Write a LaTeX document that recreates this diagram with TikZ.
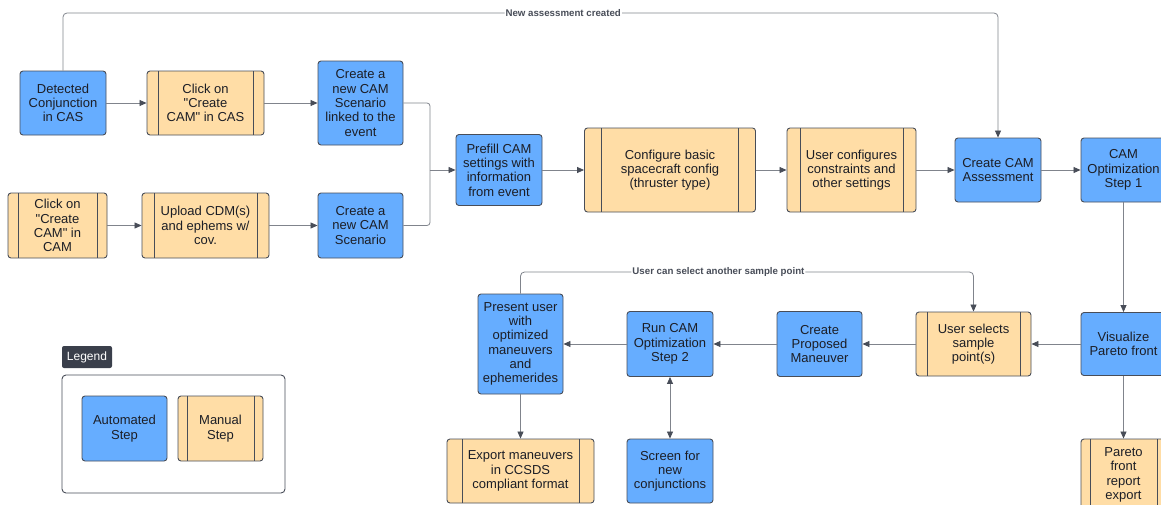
\documentclass[tikz,border=0pt]{standalone}
\usepackage{fontspec}
\setmainfont{Liberation Sans}[Ligatures=TeXOff]
\usetikzlibrary{arrows.meta}

\definecolor{autoblue}{RGB}{102,173,255}
\definecolor{manualtan}{RGB}{255,221,166}
\definecolor{edgegray}{RGB}{72,77,88}
\definecolor{linkgray}{RGB}{128,132,140}
\definecolor{inkdark}{RGB}{28,30,38}
\definecolor{tagdark}{RGB}{58,63,75}

\tikzset{
  stepbase/.style={draw=edgegray, line width=0.9pt, rounded corners=3pt, align=center,
    text=inkdark, font=\fontsize{13}{14.3}\selectfont, inner sep=0pt},
  autostep/.style={stepbase, fill=autoblue},
  manualstep/.style={stepbase, fill=manualtan, path picture={
    \draw[edgegray, line width=0.9pt] ([xshift=#1]path picture bounding box.north west) -- ([xshift=#1]path picture bounding box.south west);
    \draw[edgegray, line width=0.9pt] ([xshift=-#1]path picture bounding box.north east) -- ([xshift=-#1]path picture bounding box.south east);}},
  manualstep/.default=11pt,
  link/.style={draw=linkgray, line width=0.8pt},
  flow/.style={link, -{Triangle[length=7pt,width=6pt,color=edgegray]}},
  flowboth/.style={link, {Triangle[length=7pt,width=6pt,color=edgegray]}-{Triangle[length=7pt,width=6pt,color=edgegray]}},
  looplabel/.style={fill=white, inner sep=1pt, text=edgegray, font=\fontsize{9.7}{10}\selectfont\bfseries}
}

\begin{document}
\begin{tikzpicture}[x=1pt, y=-1pt]
\useasboundingbox (0,0) rectangle (1161,504);

\node[autostep, minimum width=86pt, minimum height=64pt] (det) at (63,103) {Detected\\Conjunction\\in CAS};
\node[manualstep, minimum width=117pt, minimum height=64pt] (clickcas) at (205.5,103) {Click on\\"Create\\CAM" in CAS};
\node[autostep, minimum width=85pt, minimum height=84pt] (scen1) at (360.5,103) {Create a\\new CAM\\Scenario\\linked to the\\event};

\node[manualstep=10pt, minimum width=99pt, minimum height=65pt] (clickcam) at (57.5,225.5) {Click on\\"Create\\CAM" in\\CAM};
\node[manualstep=12pt, minimum width=127pt, minimum height=65pt] (upload) at (205.5,225.5) {Upload CDM(s)\\and ephems w/\\cov.};
\node[autostep, minimum width=85pt, minimum height=65pt] (scen2) at (360.5,225.5) {Create a\\new CAM\\Scenario};

\node[autostep, minimum width=86pt, minimum height=71pt] (prefill) at (499,170) {Prefill CAM\\settings with\\information\\from event};
\node[manualstep=17pt, minimum width=171pt, minimum height=84pt] (config) at (670,170) {Configure basic\\spacecraft config\\(thruster type)};
\node[manualstep=13pt, minimum width=129pt, minimum height=84pt] (constr) at (851.5,170) {User configures\\constraints and\\other settings};
\node[autostep, minimum width=86pt, minimum height=64pt] (assess) at (998,170) {Create CAM\\Assessment};
\node[autostep, minimum width=85pt, minimum height=64pt] (opt1) at (1123.5,170) {CAM\\Optimization\\Step 1};

\node[autostep, minimum width=85pt, minimum height=63pt] (vis) at (1123.5,344) {Visualize\\Pareto front};
\node[manualstep, minimum width=115pt, minimum height=64pt] (select) at (973.5,344) {User selects\\sample\\point(s)};
\node[autostep, minimum width=85pt, minimum height=65pt] (proposed) at (819.5,344) {Create\\Proposed\\Maneuver};
\node[autostep, minimum width=86pt, minimum height=65pt] (run2) at (670,344) {Run CAM\\Optimization\\Step 2};
\node[autostep, minimum width=85pt, minimum height=100pt] (present) at (520.5,344) {Present user\\with\\optimized\\maneuvers\\and\\ephemerides};

\node[manualstep=15pt, minimum width=147pt, minimum height=64pt] (export) at (520.5,471) {Export maneuvers\\in CCSDS\\compliant format};
\node[autostep, minimum width=86pt, minimum height=64pt] (screen) at (670,471) {Screen for\\new\\conjunctions};
\node[manualstep=9pt, minimum width=85pt, minimum height=72pt] (pexp) at (1123.5,475) {Pareto\\front\\report\\export};

\node[fill=tagdark, text=white, rounded corners=2pt, minimum width=50pt, minimum height=22pt, inner sep=0pt, font=\fontsize{12}{13}\selectfont] (legendtag) at (87,357) {Legend};
\node[draw=edgegray, line width=0.9pt, rounded corners=4pt, minimum width=223pt, minimum height=118pt] (legendbox) at (173.5,434) {};
\node[autostep, minimum width=85pt, minimum height=65pt] (lauto) at (124.5,428.5) {Automated\\Step};
\node[manualstep=9pt, minimum width=85pt, minimum height=65pt] (lman) at (220.5,428.5) {Manual\\Step};

\coordinate (merge) at (430,170);
\coordinate (newA) at (63,13);
\coordinate (newB) at (998,13);
\coordinate (againA) at (520.5,272);
\coordinate (againB) at (973.5,272);

\draw[flow] (det.east) -- (clickcas.west);
\draw[flow] (clickcas.east) -- (scen1.west);
\draw[flow] (clickcam.east) -- (upload.west);
\draw[flow] (upload.east) -- (scen2.west);
\draw[link, rounded corners=3pt] (scen1.east) -| (merge);
\draw[link, rounded corners=3pt] (scen2.east) -| (merge);
\draw[flow] (merge) -- (prefill.west);
\draw[flow] (prefill.east) -- (config.west);
\draw[flow] (config.east) -- (constr.west);
\draw[flow] (constr.east) -- (assess.west);
\draw[flow] (assess.east) -- (opt1.west);
\draw[flow, rounded corners=4pt] (det.north) -- (newA) -- node[looplabel, pos=0.535] {New assessment created} (newB) -- (assess.north);

\draw[flow] (opt1.south) -- (vis.north);
\draw[flow] (vis.west) -- (select.east);
\draw[flow] (select.west) -- (proposed.east);
\draw[flow] (proposed.west) -- (run2.east);
\draw[flow] (run2.west) -- (present.east);
\draw[flow, rounded corners=4pt] (present.north) -- (againA) -- node[looplabel, pos=0.437] {User can select another sample point} (againB) -- (select.north);
\draw[flow] (present.south) -- (export.north);
\draw[flowboth] (run2.south) -- (screen.north);
\draw[flow] (vis.south) -- (pexp.north);

\end{tikzpicture}
\end{document}
